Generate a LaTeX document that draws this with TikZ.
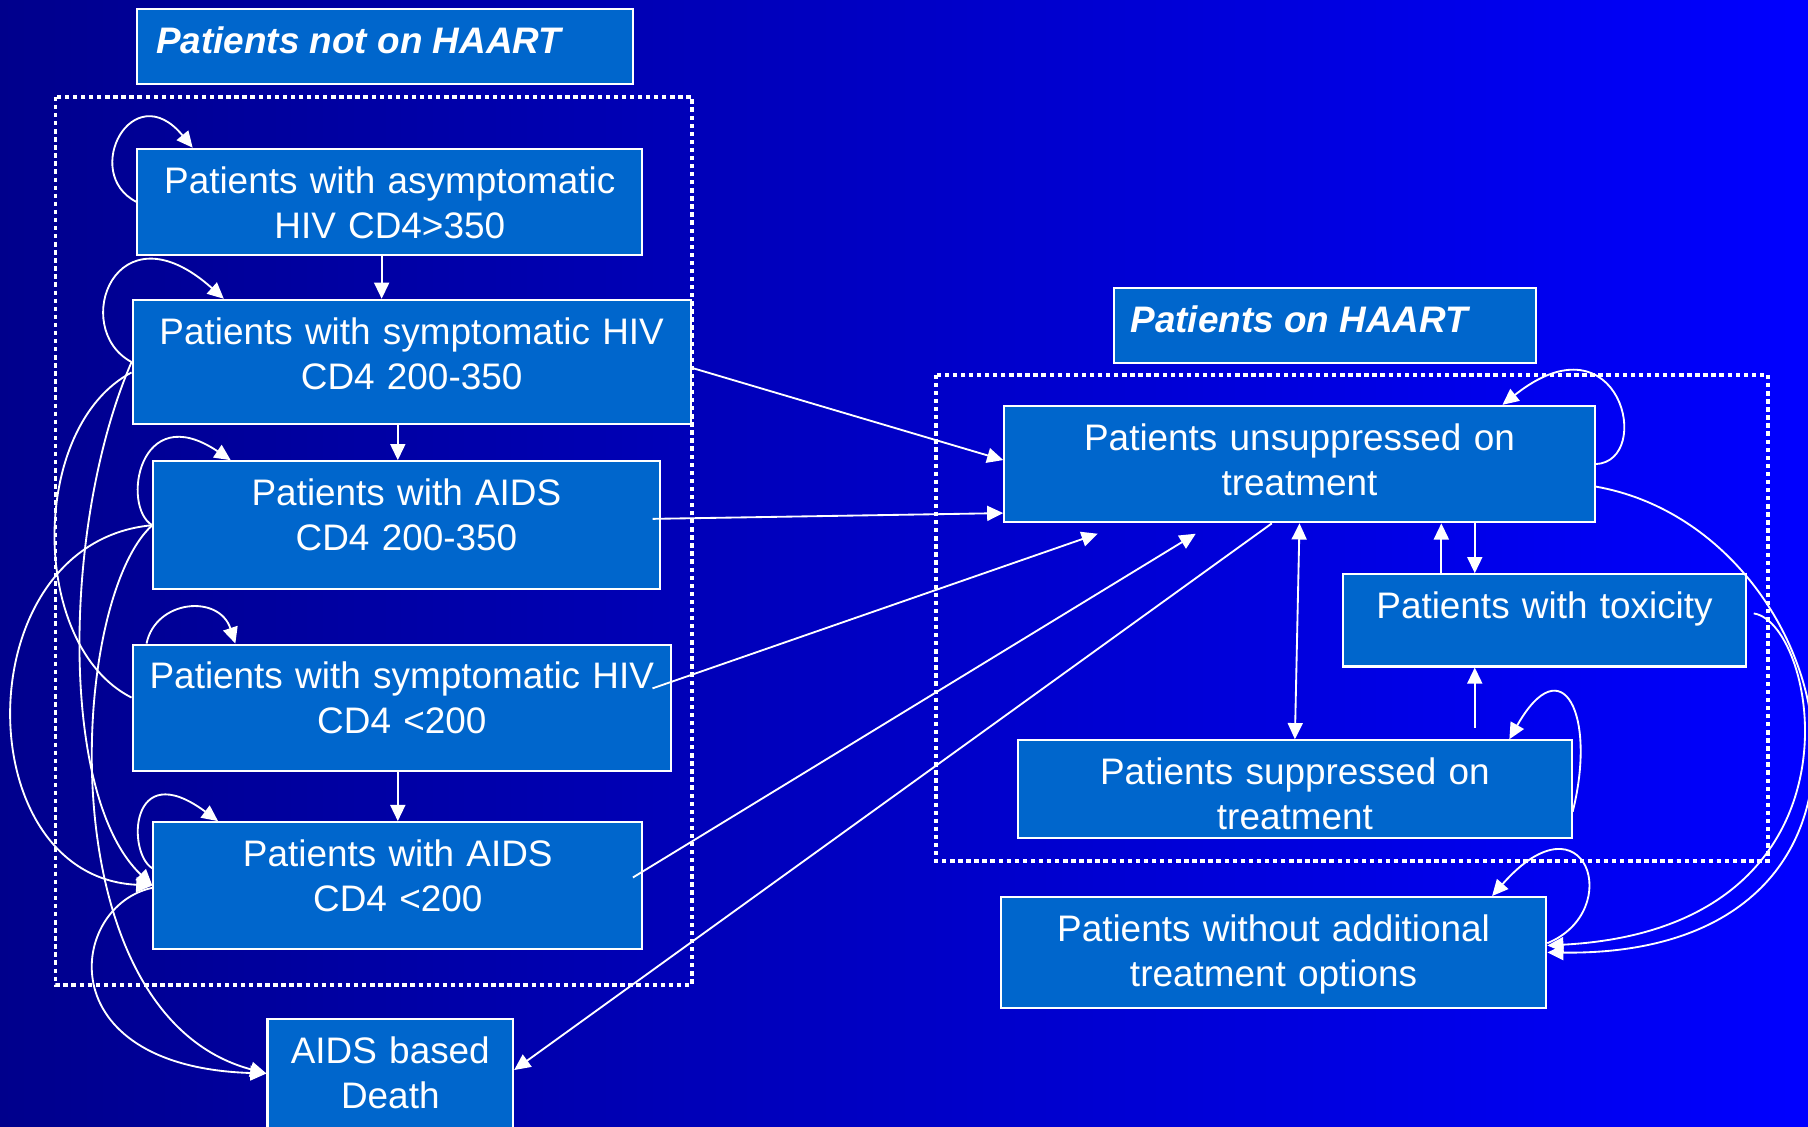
\documentclass[tikz,border=0pt]{standalone}
\usepackage{fontspec}
\setmainfont{Liberation Sans}
\usetikzlibrary{arrows.meta}
\definecolor{bgl}{RGB}{0,0,140}
\definecolor{bgr}{RGB}{0,0,255}
\definecolor{boxblue}{RGB}{0,102,204}
\tikzset{
  box/.style={draw=white, fill=boxblue, line width=0.9pt, inner sep=0pt, rectangle},
  txt/.style={text=white, font=\fontsize{16}{19.5}\selectfont, align=center, text width=250pt, inner sep=0pt},
  ttl/.style={text=white, font=\fontsize{16}{19.5}\selectfont\bfseries\itshape, inner sep=0pt},
  conn/.style={draw=white, line width=0.8pt, -{Triangle[length=7pt,width=6.5pt]}},
  both/.style={draw=white, line width=0.8pt, {Triangle[length=7pt,width=6.5pt]}-{Triangle[length=7pt,width=6.5pt]}},
  plain/.style={draw=white, line width=0.8pt},
  dotbox/.style={draw=white, line width=1.6pt, dash pattern=on 1.9pt off 1.6pt},
}
\newcommand\pbox[5]{\node[box, minimum width={(#4-#2)*0.5pt}, minimum height={(#5-#3)*0.5pt}] (#1) at ({(#2+#4)/2},{(#3+#5)/2}) {};}
\newcommand\ptext[4]{\node[txt, anchor=base] (#1-t) at (#2,{#3+38.5}) {#4};}
\begin{document}
\begin{tikzpicture}[x=0.5pt, y=-0.5pt]
\useasboundingbox (0,0) rectangle (1568,977);
\clip (0,0) rectangle (1568,977);
\shade[left color=bgl, right color=bgr] (0,0) rectangle (1568,977);

% containers
\draw[dotbox] (48,84) rectangle (600,854);
\draw[dotbox] (812,325) rectangle (1533,747);

% titles
\pbox{A1}{119}{8}{549}{73}
\node[ttl, anchor=base west] (A1-t) at (135,46.5) {Patients not on HAART};
\pbox{A2}{966}{250}{1332}{315}
\node[ttl, anchor=base west] (A2-t) at (980,288.5) {Patients on HAART};

% left boxes
\pbox{B1}{119}{129}{557}{221}
\ptext{B1}{338}{129}{Patients with asymptomatic\\HIV CD4>350}
\pbox{B2}{115}{260}{599}{368}
\ptext{B2}{357}{260}{Patients with symptomatic HIV\\CD4 200-350}
\pbox{B3}{133}{400}{572}{511}
\ptext{B3}{352.5}{400}{Patients with AIDS\\CD4 200-350}
\pbox{B4}{115}{559}{582}{669}
\ptext{B4}{348.5}{559}{Patients with symptomatic HIV\\CD4 <200}
\pbox{B5}{133}{713}{557}{823}
\ptext{B5}{345}{713}{Patients with AIDS\\CD4 <200}
\pbox{B6}{232}{884}{445}{995}
\ptext{B6}{338.5}{884}{AIDS based\\Death}

% right boxes
\pbox{C1}{871}{352}{1383}{453}
\ptext{C1}{1127}{352}{Patients unsuppressed on\\treatment}
\pbox{C2}{1165}{498}{1514}{578}
\ptext{C2}{1339.5}{498}{Patients with toxicity}
\pbox{C3}{883}{642}{1363}{727}
\ptext{C3}{1123}{642}{Patients suppressed on\\treatment}
\pbox{C4}{868}{778}{1341}{874}
\ptext{C4}{1104.5}{778}{Patients without additional\\treatment options}

% left connectors
\draw[conn] (B1.west) .. controls (70,150) and (115,65) .. ([xshift=24.5pt]B1.north west);
\draw[conn] ([xshift=-3.5pt]B1.south) -- ([xshift=-13pt]B2.north);
\draw[conn] (B2.west) .. controls (60,285) and (100,175) .. ([xshift=40pt]B2.north west);
\draw[conn] ([xshift=-6pt]B2.south) -- ([xshift=-3.75pt]B3.north);
\draw[conn] (B3.west) .. controls (105,440) and (120,345) .. ([xshift=34pt]B3.north west);
\draw[conn] ([xshift=6.5pt]B4.north west) .. controls (135,520) and (190,515) .. ([xshift=45pt]B4.north west);
\draw[conn] ([xshift=-1.75pt]B4.south) -- (B5.north);
\draw[conn] ([yshift=7.5pt]B5.west) .. controls (110,740) and (112,655) .. ([xshift=28.5pt]B5.north west);
\draw[plain] ([yshift=-4.5pt]B2.west) .. controls (25,370) and (25,560) .. ([yshift=4.5pt]B4.west);
\draw[conn] (B2.west) .. controls (55,450) and (50,690) .. (B5.west);
\draw[conn] (B3.west) .. controls (-30,470) and (-30,760) .. (B5.west);
\draw[conn] (B3.west) .. controls (60,520) and (40,880) .. ([yshift=4.25pt]B6.west);
\draw[conn] ([yshift=-1pt]B5.west) .. controls (60,785) and (40,925) .. ([yshift=4.25pt]B6.west);

% cross connectors
\draw[conn] ([yshift=-2.5pt]B2.east) -- ([yshift=1.75pt]C1.west);
\draw[conn] ([xshift=-3.5pt,yshift=2.75pt]B3.east) -- ([yshift=-21.25pt]C1.west);
\draw[conn] ([xshift=-8.5pt,yshift=8.5pt]B4.east) -- ([xshift=-87.5pt,yshift=-4.5pt]C1.south);
\draw[conn] ([xshift=-4.5pt,yshift=3.5pt]B5.east) -- ([xshift=-45pt,yshift=-4.5pt]C1.south);
\draw[conn] ([xshift=-12pt]C1.south) -- ([yshift=5.75pt]B6.east);

% right connectors
\draw[both] (C1.south) -- (C3.north);
\draw[conn] ([xshift=-44.75pt]C2.north) -- ([xshift=61.5pt]C1.south);
\draw[conn] ([xshift=76pt]C1.south) -- ([xshift=-30.25pt]C2.north);
\draw[conn] ([xshift=78pt,yshift=5pt]C3.north) -- ([xshift=-30.25pt]C2.south);
\draw[conn] ([yshift=-9.75pt]C3.east) .. controls (1385,620) and (1355,560) .. ([xshift=93pt]C3.north);
\draw[conn] (C1.east) .. controls (1435,400) and (1405,270) .. ([xshift=88pt]C1.north);
\draw[conn] ([yshift=-9.75pt]C1.east) .. controls (1600,460) and (1680,830) .. (C4.east);
\draw[conn] ([xshift=3pt,yshift=3pt]C2.east) .. controls (1577,540) and (1628,805) .. ([yshift=3pt]C4.east);
\draw[conn] ([yshift=4pt]C4.east) .. controls (1410,790) and (1375,685) .. ([xshift=94.75pt]C4.north);
\end{tikzpicture}
\end{document}
